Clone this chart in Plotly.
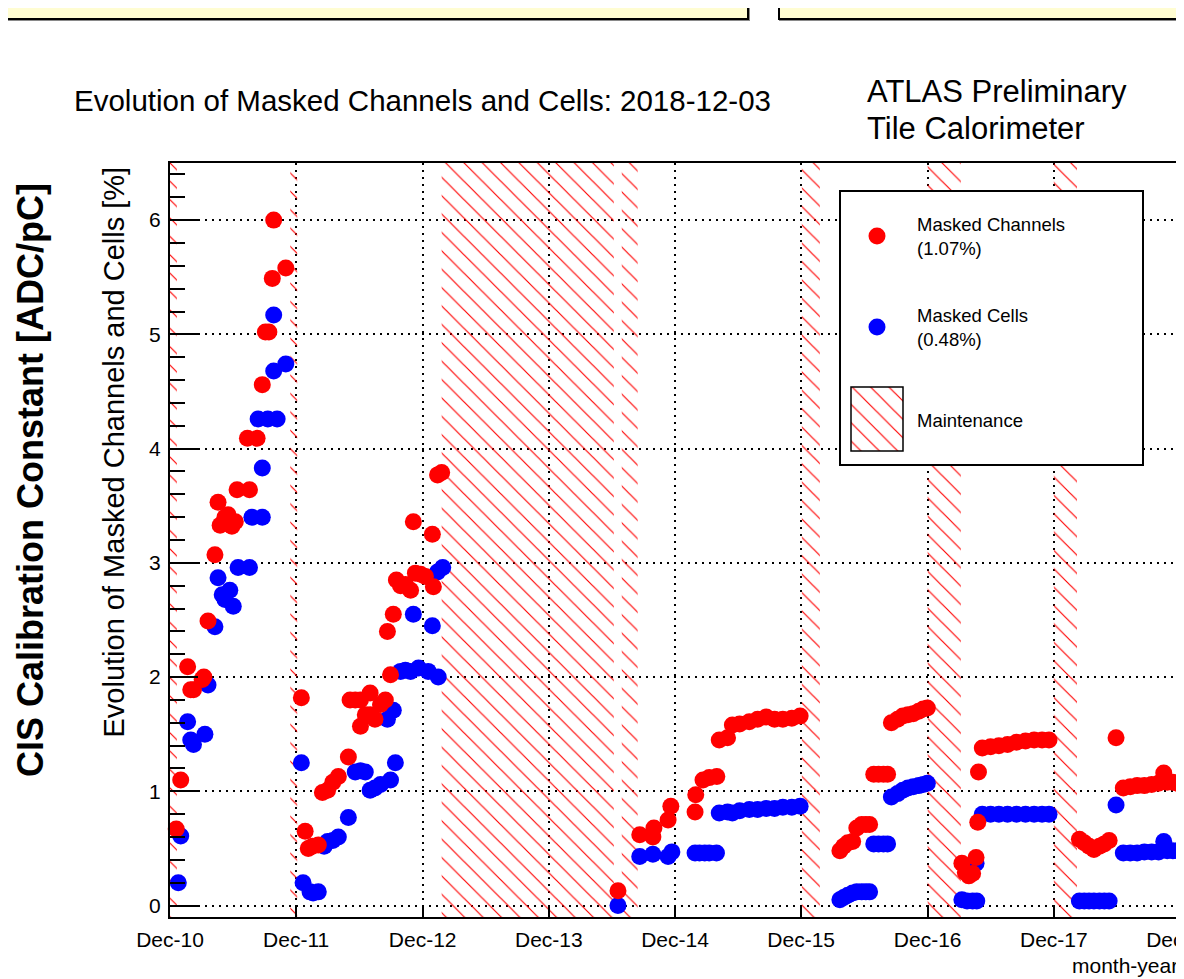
import plotly.graph_objects as go
import pandas as pd

# ---------------- data ----------------
red_dates = [
    "2010-12-19", "2011-01-01", "2011-01-21", "2011-01-30", "2011-02-07", "2011-03-04", "2011-03-09",
    "2011-03-21", "2011-04-10", "2011-04-19", "2011-04-25", "2011-05-09", "2011-05-18", "2011-05-29",
    "2011-06-08", "2011-06-13", "2011-07-19", "2011-07-13", "2011-08-10", "2011-08-25", "2011-09-03",
    "2011-09-13", "2011-09-23", "2011-09-27", "2011-11-01",
    "2011-12-16", "2011-12-27", "2012-01-05", "2012-01-17", "2012-02-03", "2012-02-15", "2012-03-01",
    "2012-03-16", "2012-04-01", "2012-04-30", "2012-05-05", "2012-05-20", "2012-06-04", "2012-06-04",
    "2012-06-18", "2012-07-02", "2012-07-02", "2012-07-16", "2012-08-01", "2012-08-15", "2012-08-30",
    "2012-08-21", "2012-09-07", "2012-09-16", "2012-09-28", "2012-10-12", "2012-10-27", "2012-11-10",
    "2012-11-25", "2012-12-09", "2013-01-01", "2012-11-04", "2012-12-29", "2013-01-13", "2013-01-25",
    "2014-06-19", "2014-08-21", "2014-09-28", "2014-10-01", "2014-11-11", "2014-11-19", "2015-01-28",
    "2015-01-30", "2015-02-20", "2015-03-10", "2015-04-01", "2015-04-08", "2015-05-02", "2015-05-16",
    "2015-06-06", "2015-07-04", "2015-07-28", "2015-08-22", "2015-09-15", "2015-10-09", "2015-11-04",
    "2015-11-28",
    "2016-03-22", "2016-04-02", "2016-04-14", "2016-04-28", "2016-05-10", "2016-05-24", "2016-06-05",
    "2016-06-16", "2016-06-28", "2016-07-12", "2016-07-26", "2016-08-07", "2016-08-18", "2016-09-05",
    "2016-09-20", "2016-10-05", "2016-10-20", "2016-11-05", "2016-11-18", "2016-11-30",
    "2017-03-10", "2017-03-20", "2017-03-30", "2017-04-10", "2017-04-20", "2017-04-25", "2017-04-27",
    "2017-05-08", "2017-06-01", "2017-06-25", "2017-07-20", "2017-08-15", "2017-09-10", "2017-10-05",
    "2017-10-28", "2017-11-17",
    "2018-02-13", "2018-02-27", "2018-03-13", "2018-03-27", "2018-04-12", "2018-04-26", "2018-05-10",
    "2018-05-30", "2018-06-20", "2018-07-10", "2018-07-30", "2018-08-20", "2018-09-10", "2018-09-30",
    "2018-10-15", "2018-10-25", "2018-11-10", "2018-11-25", "2018-12-03",
]
red_vals = [
    0.67, 1.10, 2.09, 1.89, 1.89, 1.98, 2.00,
    2.49, 3.07, 3.53, 3.33, 3.40, 3.42, 3.32,
    3.36, 3.64, 3.64, 4.09, 4.09, 4.56, 5.02,
    5.02, 5.49, 6.00, 5.58,
    1.82, 0.65, 0.50, 0.52, 0.53, 0.99, 1.01,
    1.08, 1.13, 1.30, 1.80, 1.80, 1.80, 1.57,
    1.67, 1.86, 1.67, 1.63, 1.76, 1.80, 2.02,
    2.40, 2.55, 2.85, 2.80, 2.81, 2.76, 2.91,
    2.90, 2.88, 2.79, 3.36, 3.25, 3.77, 3.79,
    0.13, 0.62, 0.60, 0.68, 0.75, 0.87, 0.82,
    0.97, 1.10, 1.12, 1.13, 1.45, 1.47, 1.58,
    1.59, 1.61, 1.63, 1.65, 1.63, 1.63, 1.64,
    1.66,
    0.48, 0.52, 0.55, 0.56, 0.68, 0.71, 0.71,
    0.71, 1.15, 1.15, 1.15, 1.15, 1.60, 1.63,
    1.66, 1.67, 1.68, 1.70, 1.72, 1.73,
    0.37, 0.29, 0.26, 0.28, 0.42, 0.73, 1.17,
    1.38, 1.39, 1.40, 1.41, 1.43, 1.44, 1.45,
    1.45, 1.45,
    0.58, 0.55, 0.52, 0.49, 0.52, 0.54, 0.57,
    1.47, 1.03, 1.04, 1.05, 1.05, 1.06, 1.07,
    1.16, 1.08, 1.08, 1.07, 1.07,
]

blue_dates = [
    "2010-12-25", "2011-01-01", "2011-01-21", "2011-01-30", "2011-02-07", "2011-03-12", "2011-03-21",
    "2011-04-10", "2011-04-19", "2011-05-01", "2011-05-09", "2011-05-23", "2011-06-02", "2011-06-16",
    "2011-07-19", "2011-07-26", "2011-08-25", "2011-08-25", "2011-08-13", "2011-09-10", "2011-10-07",
    "2011-09-27", "2011-11-01", "2011-09-27",
    "2011-12-16", "2011-12-21", "2012-01-10", "2012-01-19", "2012-02-03", "2012-02-20", "2012-03-01",
    "2012-03-16", "2012-04-01", "2012-04-30", "2012-05-20", "2012-06-04", "2012-06-18", "2012-07-02",
    "2012-07-16", "2012-08-01", "2012-08-30", "2012-09-13", "2012-08-21", "2012-09-07", "2012-09-28",
    "2012-10-12", "2012-10-27", "2012-11-19", "2012-12-17", "2013-01-15", "2012-11-04", "2012-12-29",
    "2013-01-13", "2013-01-28",
    "2014-06-19", "2014-08-21", "2014-09-28", "2014-11-11", "2014-11-22", "2015-01-28", "2015-02-10",
    "2015-02-25", "2015-03-10", "2015-03-31", "2015-04-08", "2015-05-02", "2015-05-16", "2015-06-06",
    "2015-07-04", "2015-07-28", "2015-08-22", "2015-09-15", "2015-10-09", "2015-11-04", "2015-11-28",
    "2016-03-22", "2016-04-02", "2016-04-14", "2016-04-28", "2016-05-10", "2016-05-24", "2016-06-05",
    "2016-06-16", "2016-06-28", "2016-07-12", "2016-07-26", "2016-08-07", "2016-08-18", "2016-09-05",
    "2016-09-20", "2016-10-05", "2016-10-20", "2016-11-05", "2016-11-18", "2016-11-30",
    "2017-03-10", "2017-03-25", "2017-04-10", "2017-04-22", "2017-04-20", "2017-05-08", "2017-06-01",
    "2017-06-25", "2017-07-20", "2017-08-15", "2017-09-10", "2017-10-05", "2017-10-28", "2017-11-17",
    "2018-02-13", "2018-02-27", "2018-03-13", "2018-03-27", "2018-04-12", "2018-04-26", "2018-05-10",
    "2018-05-30", "2018-06-20", "2018-07-10", "2018-07-30", "2018-08-20", "2018-09-10", "2018-09-30",
    "2018-10-15", "2018-10-25", "2018-11-10", "2018-11-25", "2018-12-03",
]
blue_vals = [
    0.20, 0.61, 1.61, 1.45, 1.41, 1.50, 1.93,
    2.44, 2.87, 2.72, 2.68, 2.76, 2.62, 2.96,
    2.96, 3.40, 3.40, 3.83, 4.26, 4.26, 4.26,
    4.68, 4.74, 5.17,
    1.25, 0.20, 0.12, 0.11, 0.12, 0.52, 0.56,
    0.57, 0.60, 0.77, 1.17, 1.18, 1.17, 1.01,
    1.03, 1.06, 1.10, 1.25, 1.63, 1.71, 2.05,
    2.06, 2.05, 2.08, 2.05, 2.00, 2.55, 2.45,
    2.92, 2.96,
    0.00, 0.43, 0.45, 0.43, 0.47, 0.46, 0.46,
    0.46, 0.46, 0.46, 0.81, 0.82, 0.81, 0.83,
    0.84, 0.84, 0.85, 0.85, 0.86, 0.86, 0.87,
    0.05, 0.07, 0.09, 0.11, 0.12, 0.12, 0.12,
    0.12, 0.54, 0.54, 0.54, 0.54, 0.95, 0.98,
    1.01, 1.03, 1.04, 1.05, 1.06, 1.07,
    0.05, 0.04, 0.04, 0.04, 0.37, 0.80, 0.80,
    0.80, 0.80, 0.80, 0.80, 0.80, 0.80, 0.80,
    0.04, 0.04, 0.04, 0.04, 0.04, 0.04, 0.04,
    0.88, 0.46, 0.46, 0.46, 0.47, 0.47, 0.47,
    0.56, 0.48, 0.48, 0.48, 0.48,
]

maint_start = ["2010-11-20", "2011-11-14", "2013-01-25", "2014-06-30", "2015-12-03", "2016-12-01", "2017-12-01"]
maint_end = ["2010-12-21", "2011-12-04", "2014-06-07", "2014-08-15", "2016-01-24", "2017-03-07", "2018-02-06"]

legend_labels = ["Masked Channels<br>(1.07%)", "Masked Cells<br>(0.48%)", "Maintenance"]
x_ticks_start = "2010-12-01"
x_range = ["2010-12-01", "2018-12-01"]
y_range = [-0.1, 6.5]

# ---------------- layout helpers ----------------
# The page places the figure 8px in from the top-left corner of the window,
# so the figure is made 8px smaller and all positions below are window pixels.
OFF = 8
W, H = 1184 - OFF, 979 - OFF
SL, SR, ST, SB = 170, 1180, 163, 917          # plot area in window pixels
L, R, T, B = SL - OFF, SR - OFF, ST - OFF, SB - OFF


def px(x):
    return (x - SL) / (SR - SL)


def py(y):
    return (SB - y) / (SB - ST)


FONT = "Liberation Sans, Arial, Helvetica, sans-serif"

HATCH = dict(shape="\\", fgcolor="#ff0000", bgcolor="rgba(0,0,0,0)", size=13, solidity=0.09, fillmode="replace")
MSIZE = 17

fig = go.Figure()

# maintenance bands
ms = pd.to_datetime(pd.Series(maint_start))
me = pd.to_datetime(pd.Series(maint_end))
centers = ms + (me - ms) / 2
widths = ((me - ms).dt.total_seconds() * 1000).tolist()
fig.add_trace(go.Bar(
    x=centers, y=[y_range[1] - y_range[0] + 0.4] * len(ms), base=y_range[0] - 0.2, width=widths,
    marker=dict(color="rgba(0,0,0,0)", line=dict(width=0), pattern=HATCH),
    hoverinfo="skip", showlegend=False,
))

# data
fig.add_trace(go.Scatter(x=pd.to_datetime(blue_dates), y=blue_vals, mode="markers",
                         marker=dict(color="#0000ff", size=MSIZE, line=dict(width=0)),
                         cliponaxis=False, name="Masked Cells", showlegend=False))
fig.add_trace(go.Scatter(x=pd.to_datetime(red_dates), y=red_vals, mode="markers",
                         marker=dict(color="#ff0000", size=MSIZE, line=dict(width=0)),
                         cliponaxis=False, name="Masked Channels", showlegend=False))

# ---------------- custom legend in its own subplot ----------------
LX0, LX1, LY0, LY1 = 840, 1143, 191, 465


def lx(x):
    return (x - LX0) / (LX1 - LX0)


def ly(y):
    return (LY1 - y) / (LY1 - LY0)


fig.add_trace(go.Bar(x=[0.5], y=[1], base=[0], width=[1], marker=dict(color="white", line=dict(width=0)),
                     xaxis="x2", yaxis="y2", hoverinfo="skip", showlegend=False))
fig.add_trace(go.Scatter(x=[lx(877)], y=[ly(236)], mode="markers", marker=dict(color="#ff0000", size=MSIZE),
                         xaxis="x2", yaxis="y2", hoverinfo="skip", showlegend=False))
fig.add_trace(go.Scatter(x=[lx(877)], y=[ly(327)], mode="markers", marker=dict(color="#0000ff", size=MSIZE),
                         xaxis="x2", yaxis="y2", hoverinfo="skip", showlegend=False))
fig.add_trace(go.Bar(x=[(lx(851) + lx(903)) / 2], width=[lx(903) - lx(851)], base=[ly(451)],
                     y=[ly(387) - ly(451)],
                     marker=dict(color="rgba(0,0,0,0)", line=dict(width=1.5, color="black"), pattern=HATCH),
                     xaxis="x2", yaxis="y2", hoverinfo="skip", showlegend=False))

annotations = [
    dict(text="Evolution of Masked Channels and Cells: 2018-12-03", x=px(72), y=py(100), xanchor="left",
         yanchor="middle", font=dict(family=FONT, size=29.5, color="black")),
    dict(text="ATLAS Preliminary", x=px(865), y=py(92), xanchor="left", yanchor="middle",
         font=dict(family=FONT, size=31, color="black")),
    dict(text="Tile Calorimeter", x=px(865), y=py(128), xanchor="left", yanchor="middle",
         font=dict(family=FONT, size=31, color="black")),
    dict(text="Evolution of Masked Channels and Cells [%]", textangle=-90, x=px(113), y=py(165),
         xanchor="center", yanchor="top", font=dict(family=FONT, size=29, color="black")),
    dict(text="<b>CIS Calibration Constant [ADC/pC]</b>", textangle=-90, x=px(30), y=py(480),
         xanchor="center", yanchor="middle", font=dict(family=FONT, size=36, color="black")),
    dict(text="month-year", x=px(1180), y=py(965), xanchor="right", yanchor="middle",
         font=dict(family=FONT, size=21, color="black")),
    dict(text=legend_labels[0], x=px(915), y=py(236), xanchor="left", yanchor="middle", align="left",
         font=dict(family=FONT, size=18.5, color="black")),
    dict(text=legend_labels[1], x=px(915), y=py(327), xanchor="left", yanchor="middle", align="left",
         font=dict(family=FONT, size=18.5, color="black")),
    dict(text=legend_labels[2], x=px(915), y=py(420), xanchor="left", yanchor="middle", align="left",
         font=dict(family=FONT, size=18.5, color="black")),
]
for a in annotations:
    a.update(xref="paper", yref="paper", showarrow=False)

shapes = [
    # top yellow boxes (with shadows)
    dict(type="rect", x0=px(-20), x1=px(750), y0=py(21), y1=py(-20), fillcolor="#8a8a8a", line=dict(width=0)),
    dict(type="rect", x0=px(-20), x1=px(748), y0=py(19), y1=py(-20), fillcolor="#FFFDD2",
         line=dict(color="black", width=2)),
    dict(type="rect", x0=px(779), x1=px(1220), y0=py(21), y1=py(-20), fillcolor="#8a8a8a", line=dict(width=0)),
    dict(type="rect", x0=px(779), x1=px(1220), y0=py(19), y1=py(-20), fillcolor="#FFFDD2",
         line=dict(color="black", width=2)),
    # legend frame
    dict(type="rect", x0=px(LX0), x1=px(LX1), y0=py(LY1), y1=py(LY0), line=dict(color="black", width=2),
         fillcolor="rgba(0,0,0,0)", layer="above"),
]
for s in shapes:
    s.update(xref="paper", yref="paper")

fig.update_layout(
    width=W, height=H,
    margin=dict(l=L, r=W - R, t=T, b=H - B, pad=0, autoexpand=False),
    paper_bgcolor="white", plot_bgcolor="white",
    showlegend=False, barmode="overlay",
    annotations=annotations, shapes=shapes,
    xaxis=dict(
        type="date", range=x_range, tick0=x_ticks_start, dtick="M12", tickformat="%b-%y",
        ticks="inside", ticklen=12, tickwidth=1.5, tickcolor="black",
        showline=True, linewidth=2, linecolor="black", mirror=True,
        showgrid=True, gridcolor="black", gridwidth=1.5, griddash="2px,5px", zeroline=False,
        tickfont=dict(family=FONT, size=21, color="black"), ticklabeloverflow="allow",
        ticklabelstandoff=3, domain=[0, 1], automargin=False,
    ),
    yaxis=dict(
        range=y_range, tick0=0, dtick=1,
        ticks="inside", ticklen=28, tickwidth=1.5, tickcolor="black",
        showline=True, linewidth=2, linecolor="black", mirror=True,
        showgrid=True, gridcolor="black", gridwidth=1.5, griddash="2px,5px", zeroline=False,
        tickfont=dict(family=FONT, size=21, color="black"), ticklabelstandoff=3,
        minor=dict(dtick=0.2, tick0=0, ticks="inside", ticklen=15, tickwidth=1.5, tickcolor="black",
                   showgrid=False),
        domain=[0, 1], automargin=False,
    ),
    xaxis2=dict(domain=[px(LX0), px(LX1)], range=[0, 1], visible=False, anchor="y2", fixedrange=True),
    yaxis2=dict(domain=[py(LY1), py(LY0)], range=[0, 1], visible=False, anchor="x2", fixedrange=True),
)

fig.write_html("out.html")
